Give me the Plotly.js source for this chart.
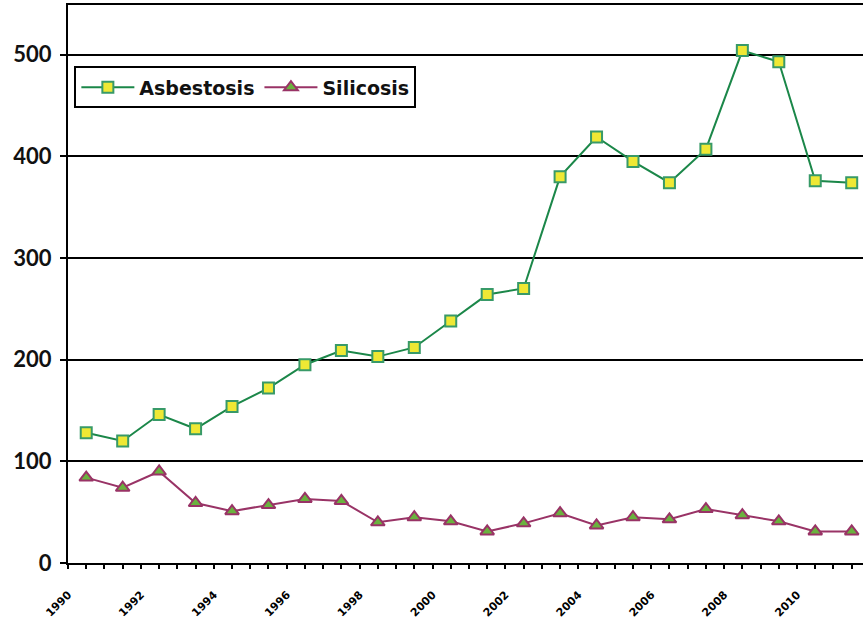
<!DOCTYPE html>
<html>
<head>
<meta charset="utf-8">
<script src="https://cdn.plot.ly/plotly-3.0.1.min.js"></script>
<style>
  html, body { margin: 0; padding: 0; background: #fff; }
  #chart { width: 863px; height: 622px; }
</style>
</head>
<body>
<div id="chart"></div>
<script>
// Annual case counts, 1990–2011
const years = [1990, 1991, 1992, 1993, 1994, 1995, 1996, 1997, 1998, 1999, 2000,
               2001, 2002, 2003, 2004, 2005, 2006, 2007, 2008, 2009, 2010, 2011];
const asbestosis = [128, 120, 146, 132, 154, 172, 195, 209, 203, 212, 238,
                    264, 270, 380, 419, 395, 374, 407, 504, 493, 376, 374];
const silicosis = [84, 74, 90, 59, 51, 57, 63, 61, 40, 45, 41,
                   31, 39, 49, 37, 45, 43, 53, 47, 41, 31, 31];
const yearLabels = [1990, 1992, 1994, 1996, 1998, 2000, 2002, 2004, 2006, 2008, 2010];
const yTicks = [0, 100, 200, 300, 400, 500];

const traces = [
  {
    x: years, y: asbestosis, name: 'Asbestosis',
    type: 'scatter', mode: 'lines+markers',
    line: { color: '#1b8749', width: 2 },
    marker: { symbol: 'square', size: 11, color: '#efe834',
              line: { color: '#389a68', width: 2 } }
  },
  {
    x: years, y: silicosis, name: 'Silicosis',
    type: 'scatter', mode: 'lines+markers',
    line: { color: '#993366', width: 2 },
    marker: { symbol: 'triangle-up', size: 12, color: '#6ab23e',
              line: { color: '#993366', width: 2 } }
  }
];

const layout = {
  width: 863, height: 622,
  margin: { l: 68, r: 0, t: 5, b: 59 },
  paper_bgcolor: '#ffffff',
  plot_bgcolor: '#ffffff',
  showlegend: true,
  legend: {
    orientation: 'h',
    x: 0.008, y: 0.89, xanchor: 'left', yanchor: 'top',
    bgcolor: '#ffffff', bordercolor: '#000000', borderwidth: 2,
    font: { family: 'DejaVu Sans', size: 19, color: '#111111', weight: 'bold' },
    itemwidth: 53
  },
  xaxis: {
    range: [1989.5, 2011.31],
    tickmode: 'array', tickvals: yearLabels, ticktext: yearLabels.map(String),
    ticks: 'outside', ticklen: 4, tickwidth: 2, tickcolor: '#000',
    tickangle: -45,
    ticklabelstandoff: 15, ticklabelshift: -18,
    tickfont: { family: 'DejaVu Sans', size: 11, color: '#000', weight: 'bold' },
    minor: { dtick: 0.5, tick0: 1989.5, ticks: 'outside', ticklen: 4, tickwidth: 2, tickcolor: '#000', showgrid: false },
    showgrid: false, zeroline: false,
    showline: true, linecolor: '#000', linewidth: 2, mirror: true
  },
  yaxis: {
    range: [0, 548.8],
    tickmode: 'array', tickvals: yTicks,
    ticks: 'outside', ticklen: 6, tickwidth: 2, tickcolor: '#000',
    tickfont: { family: 'Lato', size: 22, color: '#111', weight: 'bold' },
    ticklabelstandoff: 4,
    showgrid: true, gridcolor: '#000', gridwidth: 2,
    zeroline: false,
    showline: true, linecolor: '#000', linewidth: 2
  }
};

Plotly.newPlot('chart', traces, layout, { displayModeBar: false, staticPlot: true });
</script>
</body>
</html>
